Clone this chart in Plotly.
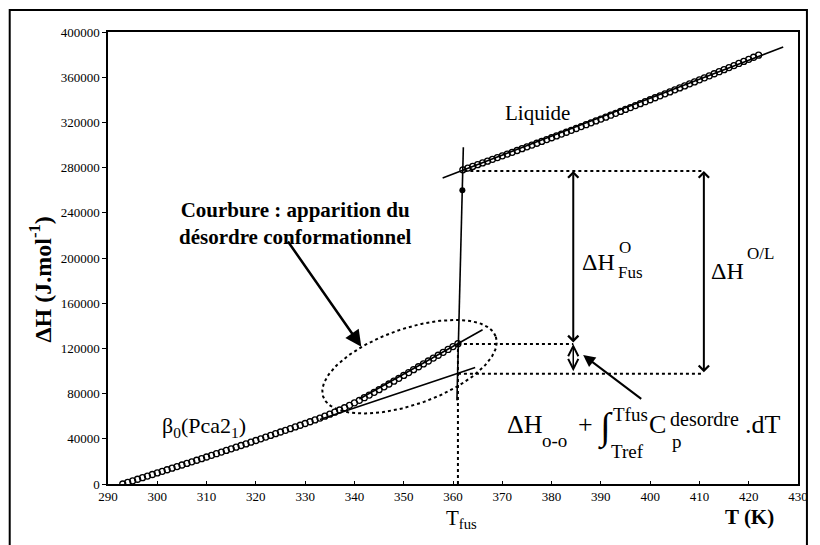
import numpy as np
import plotly.graph_objects as go

FONT = "Liberation Serif, Times New Roman, serif"

# ---- enthalpy data ----
# solid phase beta0 (Pca2_1)
T_solid = list(range(293, 362))
H_solid = [0, 1400, 2800, 4200, 5600, 7000, 8400, 9800, 11200, 12600,
           14000, 15400, 16800, 18200, 19600, 21000, 22450, 23900, 25350, 26800,
           28250, 29700, 31150, 32600, 34050, 35500, 37000, 38500, 40000, 41500,
           43000, 44500, 46000, 47500, 49000, 50500, 52000, 53550, 55100, 56700,
           58350, 60050, 61800, 63600, 65500, 67500, 69600, 71800, 74050, 76350,
           78700, 81100, 83500, 86000, 88500, 91000, 93550, 96100, 98650, 101200,
           103750, 106300, 108850, 111400, 113950, 116500, 119050, 121600, 124200]

# liquid
T_liq = list(range(362, 423))
H_liq = [278000, 279550, 281050, 282600, 284150, 285700, 287300, 288850, 290400, 292000,
         293550, 295150, 296750, 298350, 299950, 301550, 303150, 304800, 306400, 308050,
         309700, 311300, 312950, 314600, 316300, 317950, 319600, 321300, 322950, 324650,
         326350, 328050, 329750, 331450, 333150, 334850, 336600, 338300, 340050, 341800,
         343500, 345250, 347000, 348800, 350550, 352300, 354100, 355850, 357650, 359450,
         361250, 363050, 364850, 366650, 368500, 370300, 372150, 374000, 375800, 377650,
         379500]

# fitted straight lines
low_T, low_H = [333, 364.5], [57000, 103000]        # ordered solid, extrapolated
high_T, high_H = [341, 366], [75200, 136450]        # disordered solid
liq_T, liq_H = [357.9, 427], [270800, 386700]       # liquid
melt_T, melt_H = [360.8, 362.1], [74000, 298000]    # melting step
jump_T, jump_H = [361.9], [260000]                  # point inside the step

T_fus = 361
H_top, H_mid, H_low = 277000, 124000, 97500
x_fus_arrow, x_ol_arrow = 384.4, 410.9

# ---- plot geometry ----
X0, X1, Y0, Y1 = 290, 430, 0, 400000
L, R, T, B = 108, 17, 32, 61
W_PX, H_PX = 820, 545
PW, PH = W_PX - L - R, H_PX - T - B


def px2x(p):
    return X0 + (p - L) * (X1 - X0) / PW


def py2y(p):
    return Y1 - (p - T) * (Y1 - Y0) / PH


def px2paper(p):
    return (p - L) / PW


def py2paper(p):
    return (T + PH - p) / PH


fig = go.Figure()

# dotted ellipse around the curvature zone (pixel-space ellipse)
ell_cx, ell_cy = 411.7, 366.7
ell_a, ell_b, ell_ang = 92, 38, np.deg2rad(19)
t = np.linspace(0, 2 * np.pi, 200)
ex = ell_cx + ell_a * np.cos(t) * np.cos(ell_ang) + ell_b * np.sin(t) * np.sin(ell_ang)
ey = ell_cy - ell_a * np.cos(t) * np.sin(ell_ang) + ell_b * np.sin(t) * np.cos(ell_ang)
fig.add_trace(go.Scatter(x=[px2x(v) for v in ex], y=[py2y(v) for v in ey], mode="lines",
                         line=dict(color="black", width=2, dash="dot"), hoverinfo="skip"))

for xs, ys in [(low_T, low_H), (high_T, high_H), (liq_T, liq_H), (melt_T, melt_H)]:
    fig.add_trace(go.Scatter(x=xs, y=ys, mode="lines",
                             line=dict(color="black", width=1.6), hoverinfo="skip"))

marker = dict(symbol="circle-open", size=6, color="black", line=dict(width=1.3, color="black"))
fig.add_trace(go.Scatter(x=T_solid, y=H_solid, mode="markers", marker=marker))
fig.add_trace(go.Scatter(x=T_liq, y=H_liq, mode="markers", marker=marker))
fig.add_trace(go.Scatter(x=jump_T, y=jump_H, mode="markers",
                         marker=dict(symbol="circle", size=6, color="black")))

dot = dict(color="black", width=2, dash="dot")
shapes = [
    dict(type="line", xref="x", yref="y", x0=T_fus, x1=T_fus, y0=0, y1=H_mid, line=dot),
    dict(type="line", xref="x", yref="y", x0=362.3, x1=x_ol_arrow, y0=H_top, y1=H_top, line=dot),
    dict(type="line", xref="x", yref="y", x0=T_fus, x1=x_fus_arrow, y0=H_mid, y1=H_mid, line=dot),
    dict(type="line", xref="x", yref="y", x0=T_fus, x1=x_ol_arrow, y0=H_low, y1=H_low, line=dot),
    # outer frame
    dict(type="rect", xref="paper", yref="paper",
         x0=px2paper(9), x1=px2paper(812), y0=py2paper(548), y1=py2paper(10),
         line=dict(color="black", width=2)),
]

ann = []


def arrow(xh, yh, xt, yt, head=2, width=2.0, size=1.0, both=False):
    d = dict(x=xh, y=yh, ax=xt, ay=yt, xref="x", yref="y", axref="x", ayref="y",
             text="", showarrow=True, arrowhead=head, arrowwidth=width, arrowsize=size,
             arrowcolor="black")
    if both:
        d.update(arrowside="end+start", startarrowhead=head, startarrowsize=size)
    ann.append(d)


arrow(341.4, 121500, 326.3, 215900, head=2, width=2.5, size=1.3)
arrow(x_fus_arrow, H_top, x_fus_arrow, H_mid, head=4, width=2, size=1, both=True)
arrow(x_ol_arrow, H_top, x_ol_arrow, H_low, head=4, width=2, size=1, both=True)
arrow(x_fus_arrow, H_mid, x_fus_arrow, 98500, head=5, width=1.5, size=1.33, both=True)
arrow(386.4, 114200, 398.5, 74300, head=2, width=2, size=1.2)


def txt(s, px, py, size, anchor="left", bold=False, angle=0):
    if bold:
        s = "<b>" + s + "</b>"
    ann.append(dict(x=px2paper(px), y=py2paper(py), xref="paper", yref="paper", text=s,
                    showarrow=False, xanchor=anchor, yanchor="middle", textangle=angle,
                    font=dict(family=FONT, size=size, color="black")))


txt("Liquide", 541, 113, 21, "center")
txt("β<sub>0</sub>(Pca2<sub>1</sub>)", 205, 427, 22, "center")
txt("Courbure : apparition du<br>désordre conformationnel", 296, 223, 21, "center", bold=True)

# ΔH°fus
txt("ΔH", 583, 262, 24)
txt("O", 621, 248, 17)
txt("Fus", 620, 272, 17)
# ΔH O/L
txt("ΔH", 713, 271, 24)
txt("O/L", 750, 253, 17)

# ΔHo-o + ∫ Cp dT
txt("ΔH", 508, 424, 26)
txt("o-o", 543, 440, 19)
txt("+", 579, 424, 26)
txt("∫", 600, 427, 38)
txt("Tfus", 615, 414, 19)
txt("Tref", 613, 451, 19)
txt("C", 651, 424, 26)
txt("desordre", 672, 419, 20)
txt("p", 674, 441, 19)
txt(".dT", 748, 424, 26)

# axis captions
txt("T<sub>fus</sub>", 464, 519, 21, "center")
txt("T (K)", 754, 517, 21, "center", bold=True)
txt("ΔH (J.mol<sup>-1</sup>)", 40, 279, 24, "center", bold=True, angle=-90)

axis_common = dict(showgrid=False, zeroline=False, showline=True, linecolor="black",
                   linewidth=1.5, mirror=True, tickcolor="black",
                   tickfont=dict(family=FONT, size=13, color="black"))

fig.update_layout(
    width=W_PX, height=H_PX, margin=dict(l=L, r=R, t=T, b=B),
    paper_bgcolor="white", plot_bgcolor="white", showlegend=False,
    shapes=shapes, annotations=ann,
    xaxis=dict(range=[X0, X1], dtick=10, tick0=290, ticks="inside", ticklen=3, **axis_common),
    yaxis=dict(range=[Y0, Y1], dtick=40000, tick0=0, ticks="outside", ticklen=4,
               tickformat="d", **axis_common),
)

fig.write_html("out.html")
